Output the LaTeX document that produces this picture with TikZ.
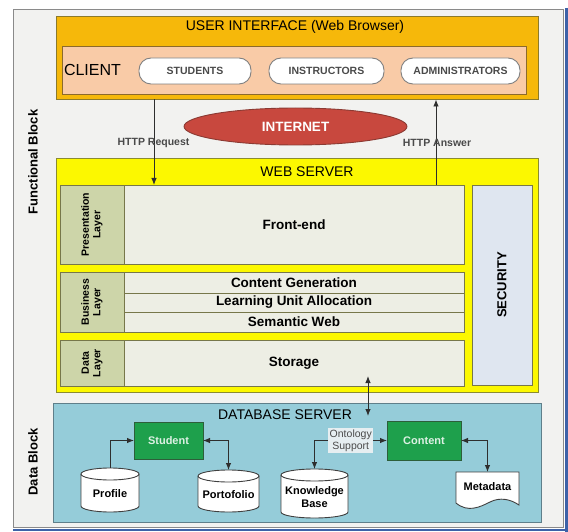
\documentclass[tikz,border=0pt]{standalone}
\usepackage{fontspec}
\setmainfont{Liberation Sans}
\usetikzlibrary{arrows.meta,shapes.geometric}
\definecolor{framebg}{HTML}{F2F2F0}
\definecolor{framegray}{HTML}{8A8A8A}
\definecolor{winblue}{HTML}{3D62A8}
\definecolor{uiorange}{HTML}{F6B80A}
\definecolor{uiborder}{HTML}{8C7A2B}
\definecolor{clientfill}{HTML}{F9CBA7}
\definecolor{clientborder}{HTML}{8C6A2B}
\definecolor{inetred}{HTML}{C8483E}
\definecolor{inetborder}{HTML}{8B3A33}
\definecolor{wsyellow}{HTML}{FCF800}
\definecolor{wsborder}{HTML}{8B8B30}
\definecolor{lblfill}{HTML}{CDD5A9}
\definecolor{lblborder}{HTML}{77774A}
\definecolor{cellfill}{HTML}{EDEEE4}
\definecolor{secfill}{HTML}{DFE6F0}
\definecolor{dbblue}{HTML}{95CCD9}
\definecolor{dbborder}{HTML}{5F7F8A}
\definecolor{green}{HTML}{1EA04C}
\definecolor{greenborder}{HTML}{2D5E3A}
\definecolor{txtgray}{HTML}{4A4A4A}
\definecolor{lnk}{HTML}{2E2E2E}
\definecolor{ontofill}{HTML}{E6EEF1}
\newcommand{\mycyl}[6]{%
  \path[cyl] (#2,{#3+6}) -- (#2,{#3+#5-6})
     arc[start angle=180, end angle=360, x radius={#4*0.5pt}, y radius=6pt]
     -- ({#2+#4},{#3+6})
     arc[start angle=0, end angle=180, x radius={#4*0.5pt}, y radius=6pt] -- cycle;
  \draw[draw=black!75, line width=0.9pt] (#2,{#3+6}) arc[start angle=180, end angle=360, x radius={#4*0.5pt}, y radius=6pt];
  \node[inner sep=0pt, outer sep=0pt, minimum width=#4pt, minimum height=#5pt, anchor=north west] (#1) at (#2,#3) {};
  \node[b11, align=center] (#1txt) at ({#2+#4*0.5},{#3+#5*0.5+3.5}) {#6};
}
\begin{document}
\begin{tikzpicture}[x=1pt,y=-1pt,
  box/.style={draw, rectangle, inner sep=0pt, outer sep=0pt, anchor=north west, line width=0.9pt},
  tt/.style={inner sep=0pt, outer sep=0pt, text=black},
  t14/.style={tt, font={\fontsize{14}{17}\selectfont}},
  b14/.style={tt, font={\fontsize{13.5}{16}\selectfont\bfseries}},
  b11/.style={tt, font={\fontsize{11}{13}\selectfont\bfseries}},
  lbl/.style={tt, rotate=90, align=center, font={\fontsize{10.5}{11.5}\selectfont\bfseries}},
  blk/.style={tt, rotate=90, font={\fontsize{13}{15}\selectfont\bfseries}},
  pill/.style={draw=gray, fill=white, rectangle, rounded corners=12pt, line width=0.9pt, inner sep=0pt,
     text=txtgray, font={\fontsize{10.5}{12}\selectfont\bfseries}},
  http/.style={tt, text=txtgray, font={\fontsize{10.5}{12}\selectfont\bfseries}},
  gbox/.style={box, fill=green, draw=greenborder, text=green!15, font={\fontsize{11}{13}\selectfont\bfseries}},
  cyl/.style={draw=black!75, fill=white, line width=0.9pt},
  arr/.style={draw=lnk, line width=0.9pt, -{Latex[length=7pt,width=5.5pt]}},
  dbl/.style={draw=lnk, line width=0.9pt, {Latex[length=7pt,width=5.5pt]}-{Latex[length=7pt,width=5.5pt]}}
]
\useasboundingbox (0,0) rectangle (568,532);
\fill[white] (0,0) rectangle (568,532);
% outer frame
\node[box, draw=framegray, fill=framebg, minimum width=550pt, minimum height=518pt] (frame) at (13,9) {};
\draw[winblue, line width=3pt] (566.5,8) -- (566.5,532);
\draw[winblue, line width=2pt] (13,529.5) -- (568,529.5);
\node[blk] (fblock) at (33,162) {Functional Block};
\node[blk] (dblock) at (33,462) {Data Block};
% user interface
\node[box, fill=uiorange, draw=uiborder, minimum width=482pt, minimum height=83pt] (ui) at (56,16) {};
\node[t14] (uititle) at (295,26.5) {USER INTERFACE (Web Browser)};
\node[box, fill=clientfill, draw=clientborder, minimum width=464pt, minimum height=48pt] (client) at (62,46) {};
\node[tt, font={\fontsize{16}{18}\selectfont}] (clienttxt) at (92.5,70) {CLIENT};
\node[pill, minimum width=112pt, minimum height=26pt] (students) at (195,71) {STUDENTS};
\node[pill, minimum width=115pt, minimum height=26pt] (instructors) at (326.5,71) {INSTRUCTORS};
\node[pill, minimum width=119pt, minimum height=26pt] (admins) at (460.5,71) {ADMINISTRATORS};
% internet
\node[ellipse, fill=inetred, draw=inetborder, line width=0.9pt, minimum width=223pt, minimum height=37pt, inner sep=0pt,
  text=white, font={\fontsize{13.5}{16}\selectfont\bfseries}] (internet) at (295.5,126.5) {INTERNET};
% web server
\node[box, fill=wsyellow, draw=wsborder, minimum width=482pt, minimum height=234pt] (ws) at (56,158) {};
\node[t14] (wstitle) at (307,172) {WEB SERVER};
% presentation layer
\node[box, fill=lblfill, draw=lblborder, minimum width=64pt, minimum height=79pt] (plbl) at (60,185) {};
\node[lbl] (plbltxt) at (plbl.center) {Presentation\\Layer};
\node[box, fill=cellfill, draw=lblborder, minimum width=340pt, minimum height=79pt, b14] (frontend) at (124,185) {Front-end};
% business layer
\node[box, fill=lblfill, draw=lblborder, minimum width=64pt, minimum height=60pt] (blbl) at (60,272) {};
\node[lbl] (blbltxt) at (blbl.center) {Business\\Layer};
\node[box, fill=cellfill, draw=lblborder, minimum width=340pt, minimum height=21pt, b14] (cgen) at (124,272) {Content Generation};
\node[box, fill=cellfill, draw=lblborder, minimum width=340pt, minimum height=19pt, b14] (lua) at (124,293) {Learning Unit Allocation};
\node[box, fill=cellfill, draw=lblborder, minimum width=340pt, minimum height=20pt, b14] (semweb) at (124,312) {Semantic Web};
% data layer
\node[box, fill=lblfill, draw=lblborder, minimum width=64pt, minimum height=46pt] (dlbl) at (60,340) {};
\node[lbl] (dlbltxt) at (dlbl.center) {Data\\Layer};
\node[box, fill=cellfill, draw=lblborder, minimum width=340pt, minimum height=46pt, b14] (storage) at (124,340) {Storage};
% security
\node[box, fill=secfill, draw=lblborder, minimum width=60pt, minimum height=200pt] (security) at (472,185) {};
\node[tt, rotate=90, font={\fontsize{13}{15}\selectfont\bfseries}] (sectxt) at (502,285) {SECURITY};
% http arrows
\coordinate (reqtop) at (154,99.5);
\coordinate (reqbot) at (154,185);
\coordinate (anstop) at (436,99.5);
\coordinate (ansbot) at (436,185);
\draw[arr] (reqtop) -- (reqbot);
\draw[arr] (ansbot) -- (anstop);
\node[http] (reqlbl) at (153.5,143) {HTTP Request};
\node[http] (anslbl) at (437,142.5) {HTTP Answer};
% database server
\node[box, fill=dbblue, draw=dbborder, minimum width=488pt, minimum height=119pt] (db) at (53,403) {};
\node[t14] (dbtitle) at (285,415) {DATABASE SERVER};
\coordinate (stin) at (368,376);
\coordinate (dbin) at (368,416);
\draw[dbl] (stin) -- (dbin);
\node[gbox, minimum width=69pt, minimum height=37pt] (student) at (134,422) {Student};
\node[gbox, minimum width=74pt, minimum height=39pt] (content) at (387,421) {Content};
% cylinders
\mycyl{profile}{81}{468}{58}{44}{Profile}
\mycyl{portofolio}{198}{470}{61}{42}{Portofolio}
\mycyl{kb}{281}{469}{67}{49}{Knowledge\\Base}
% metadata document
\path[cyl] (456,472) -- (519,472) -- (519,505)
   .. controls (510,499) and (500,497) .. (490,502)
   .. controls (480,507) and (468,513) .. (456,503) -- cycle;
\node[b11, minimum width=63pt, minimum height=30pt, anchor=north west] (metadata) at (456,472) {Metadata};
% connectors
\draw[arr] (profile.north) |- (student.west);
\draw[dbl] (student.east) -| (portofolio.north);
\draw[dbl] (content.west) -| (kb.north)
  node[pos=0.25, fill=ontofill, inner sep=1.5pt, align=center, text=txtgray,
       font={\fontsize{10.5}{12}\selectfont}] (onto) {Ontology\\Support};
\draw[dbl] (content.east) -| (metadata.north);
\end{tikzpicture}
\end{document}
